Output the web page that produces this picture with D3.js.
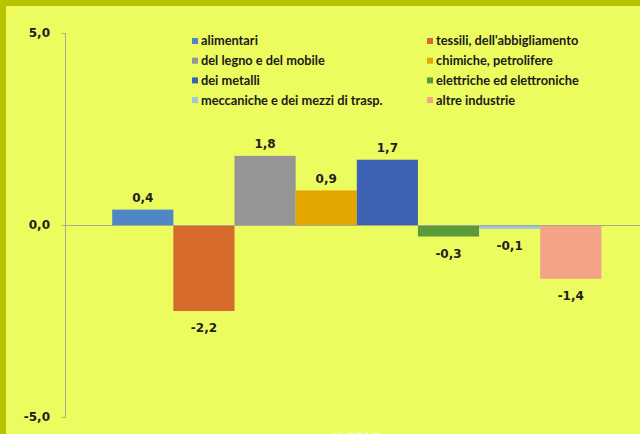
<!DOCTYPE html>
<html><head><meta charset="utf-8">
<script src="https://cdn.jsdelivr.net/npm/d3@7"></script>
<style>html,body{margin:0;padding:0;background:#ecfb5e;}svg{display:block;}</style>
</head><body>
<script>
const categories = ["II 2013"];
const seriesNames = ["alimentari","tessili, dell'abbigliamento","del legno e del mobile","chimiche, petrolifere","dei metalli","elettriche ed elettroniche","meccaniche e dei mezzi di trasp.","altre industrie"];
const seriesValues = [0.4, -2.24, 1.8, 0.9, 1.7, -0.3, -0.1, -1.4];
const seriesColors = ["#4f86c6","#d56a2a","#959595","#e2a800","#3d62b4","#5b9a3c","#9dc3e6","#f2a388"];
const yTicks = [-5, 0, 5];

const W = 640, H = 434;
const svg = d3.select("body").append("svg").attr("width", W).attr("height", H);
svg.append("rect").attr("width", W).attr("height", H).attr("fill", "#ecfb5e");
svg.append("rect").attr("x",0).attr("y",0).attr("width",W).attr("height",6).attr("fill","#b7c400");
svg.append("rect").attr("x",0).attr("y",0).attr("width",6).attr("height",H).attr("fill","#b7c400");

const y = d3.scaleLinear().domain([-5, 5]).range([417, 33]);
const x0 = d3.scaleBand().domain(categories).range([65, 640]).paddingInner(0).paddingOuter(0.0878).align(0.55);
const x1 = d3.scaleBand().domain(seriesNames).range([0, x0.bandwidth()]).padding(0);

const fmt = v => d3.format(".1f")(v).replace(".", ",").replace("−","-");

// y axis
const yAxis = d3.axisLeft(y).tickValues(yTicks).tickSize(3).tickFormat(fmt);
const ga = svg.append("g").attr("transform", "translate(65,0)").call(yAxis);
ga.select(".domain").attr("stroke", "#a9aa8c").attr("d", "M-3,33.5H0.5V417.5H-3");
ga.selectAll(".tick line").attr("stroke", "#a9aa8c");
ga.selectAll(".tick text").attr("x", -15).attr("fill", "#1e1e1e")
  .style("font-family", "DejaVu Sans, Verdana, sans-serif").style("font-weight", "bold").style("font-size", "12px");

// bars
const g = svg.append("g");
categories.forEach(c => {
  seriesNames.forEach((s, i) => {
    const v = seriesValues[i];
    const bx = x0(c) + x1(s);
    g.append("rect").attr("x", bx).attr("width", x1.bandwidth())
      .attr("y", y(Math.max(0, v))).attr("height", Math.abs(y(v) - y(0)))
      .attr("fill", seriesColors[i]);
    g.append("text").attr("x", bx + x1.bandwidth() / 2)
      .attr("y", v >= 0 ? y(v) - 12 : y(v) + 17)
      .attr("dy", "0.35em").attr("text-anchor", "middle").attr("fill", "#1e1e1e")
      .style("font-family", "DejaVu Sans, Verdana, sans-serif").style("font-weight", "bold").style("font-size", "12px")
      .text(fmt(v));
  });
  svg.append("text").attr("x", x0(c) + x0.bandwidth() / 2).attr("y", 441).attr("text-anchor", "middle")
    .attr("fill", "#f7fca8").style("font-family", "DejaVu Sans, Verdana, sans-serif").style("font-weight", "bold").style("font-size", "12px")
    .text(c);
});

// zero line
svg.append("line").attr("x1", 62).attr("x2", 640).attr("y1", y(0) + 0.5).attr("y2", y(0) + 0.5).attr("stroke", "#a9aa8c");

// legend
const leg = svg.append("g");
seriesNames.forEach((s, i) => {
  const col = i % 2, row = Math.floor(i / 2);
  const lx = col === 0 ? 192 : 427, ly = 41 + row * 19.7;
  leg.append("rect").attr("x", lx).attr("y", ly - 3).attr("width", 6).attr("height", 6).attr("fill", seriesColors[i]);
  leg.append("text").attr("x", lx + 9).attr("y", ly).attr("dy", "0.35em").attr("fill", "#1a1a1a")
    .style("font-family", "Lato, sans-serif").style("font-weight", "bold").style("font-size", "12.8px").text(s);
});
</script>
</body></html>
